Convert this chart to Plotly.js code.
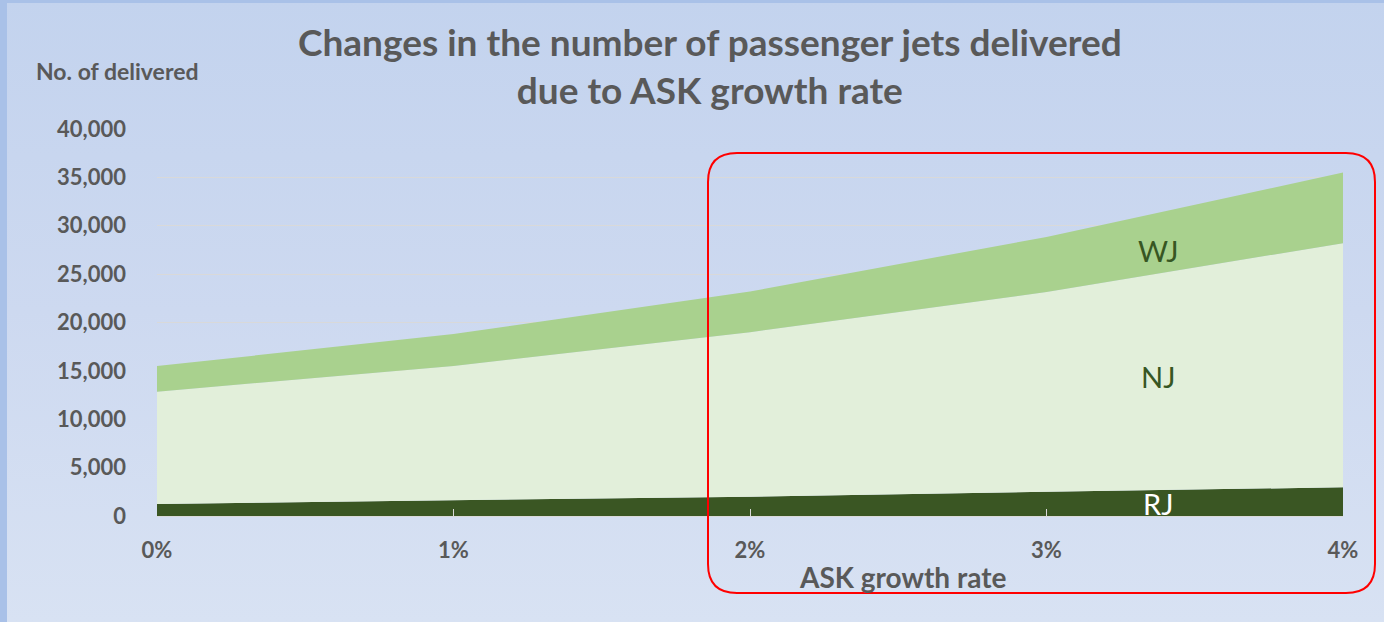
<!DOCTYPE html>
<html>
<head>
<meta charset="utf-8">
<script src="https://cdn.plot.ly/plotly-3.0.1.min.js"></script>
<style>
  html, body { margin: 0; padding: 0; }
  body {
    width: 1384px; height: 622px; overflow: hidden; position: relative;
    background: linear-gradient(to bottom, #c3d3ee 0%, #cdd9f0 50%, #d8e2f3 100%);
  }
  .strip { position: absolute; background: #a9c1e8; z-index: 0; }
  #chart { position: absolute; left: 0; top: 0; width: 1384px; height: 622px; z-index: 1; }
</style>
</head>
<body>
<div class="strip" style="left:0;top:0;width:7px;height:622px;"></div>
<div class="strip" style="left:0;top:0;width:1384px;height:3px;"></div>
<div id="chart"></div>
<script>
// Data
const categories = ["0%", "1%", "2%", "3%", "4%"];
const xPositions = [0, 1, 2, 3, 4];
const rjValues = [1250, 1650, 2000, 2500, 2970];
const njValues = [11600, 13850, 17000, 20650, 25230];
const wjValues = [2650, 3300, 4200, 5700, 7300];
const yTicks = [0, 5000, 10000, 15000, 20000, 25000, 30000, 35000, 40000];

const textColor = "#595959";
const fontFam = "Lato, 'Open Sans', sans-serif";

const traces = [
  { name: "RJ", x: xPositions, y: rjValues, stackgroup: "one", mode: "lines",
    line: { width: 0 }, fillcolor: "#3a5623", hoverinfo: "skip" },
  { name: "NJ", x: xPositions, y: njValues, stackgroup: "one", mode: "lines",
    line: { width: 0 }, fillcolor: "#e2efda", hoverinfo: "skip" },
  { name: "WJ", x: xPositions, y: wjValues, stackgroup: "one", mode: "lines",
    line: { width: 0 }, fillcolor: "#a9d18e", hoverinfo: "skip" }
];

// plot area: x 157..1343 px, y 129..516 px
const pw = 1186, ph = 387;
function px(x) { return (x - 157) / pw; }
function py(y) { return (516 - y) / ph; }
const L = px(708), R = px(1375), T = py(153), B = py(593);
const rx = 29 / pw, ry = 29 / ph;
const roundRect = `M ${L + rx} ${T} L ${R - rx} ${T} Q ${R} ${T} ${R} ${T - ry} ` +
  `L ${R} ${B + ry} Q ${R} ${B} ${R - rx} ${B} L ${L + rx} ${B} Q ${L} ${B} ${L} ${B + ry} ` +
  `L ${L} ${T - ry} Q ${L} ${T} ${L + rx} ${T} Z`;

const layout = {
  width: 1384, height: 622,
  margin: { l: 157, r: 41, t: 129, b: 106 },
  paper_bgcolor: "rgba(0,0,0,0)",
  plot_bgcolor: "rgba(0,0,0,0)",
  showlegend: false,
  font: { family: fontFam, color: textColor },
  xaxis: {
    range: [0, 4], tickvals: xPositions, ticktext: categories,
    showgrid: false, zeroline: false,
    showline: true, linecolor: "#d9d9d9", linewidth: 1,
    ticks: "inside", ticklen: 7, tickcolor: "#d9d9d9", tickwidth: 1,
    tickfont: { size: 22, color: textColor, family: fontFam, weight: "bold" },
    ticklabelstandoff: 15,
    fixedrange: true
  },
  yaxis: {
    range: [0, 40000], tickvals: yTicks, tickformat: ",",
    showgrid: true, gridcolor: "#d9d9d9", gridwidth: 1, zeroline: false,
    showline: false, ticks: "",
    tickfont: { size: 22, color: textColor, family: fontFam, weight: "bold" },
    ticklabelstandoff: 30,
    fixedrange: true
  },
  annotations: [
    { text: "Changes in the number of passenger jets delivered<br>due to ASK growth rate",
      xref: "paper", yref: "paper", x: px(710), y: py(66), xanchor: "center", yanchor: "middle",
      showarrow: false, font: { size: 37, color: textColor, family: fontFam, weight: "bold" },
      align: "center" },
    { text: "No. of delivered", xref: "paper", yref: "paper", x: px(34), y: py(71),
      xanchor: "left", yanchor: "middle", showarrow: false,
      font: { size: 23, color: textColor, family: fontFam, weight: "bold" } },
    { text: "ASK growth rate", xref: "paper", yref: "paper", x: px(903), y: py(577),
      xanchor: "center", yanchor: "middle", showarrow: false,
      font: { size: 28, color: textColor, family: fontFam, weight: "bold" } },
    { text: "WJ", xref: "paper", yref: "paper", x: px(1158), y: py(250),
      xanchor: "center", yanchor: "middle", showarrow: false,
      font: { size: 29, color: "#375623", family: fontFam } },
    { text: "NJ", xref: "paper", yref: "paper", x: px(1158), y: py(376),
      xanchor: "center", yanchor: "middle", showarrow: false,
      font: { size: 29, color: "#375623", family: fontFam } },
    { text: "RJ", xref: "paper", yref: "paper", x: px(1158), y: py(503),
      xanchor: "center", yanchor: "middle", showarrow: false,
      font: { size: 29, color: "#ffffff", family: fontFam } }
  ],
  shapes: [
    { type: "path", xref: "paper", yref: "paper", path: roundRect,
      line: { color: "#ff0000", width: 2 }, fillcolor: "rgba(0,0,0,0)", layer: "above" }
  ]
};

Plotly.newPlot("chart", traces, layout, { staticPlot: true, displayModeBar: false });
</script>
</body>
</html>
